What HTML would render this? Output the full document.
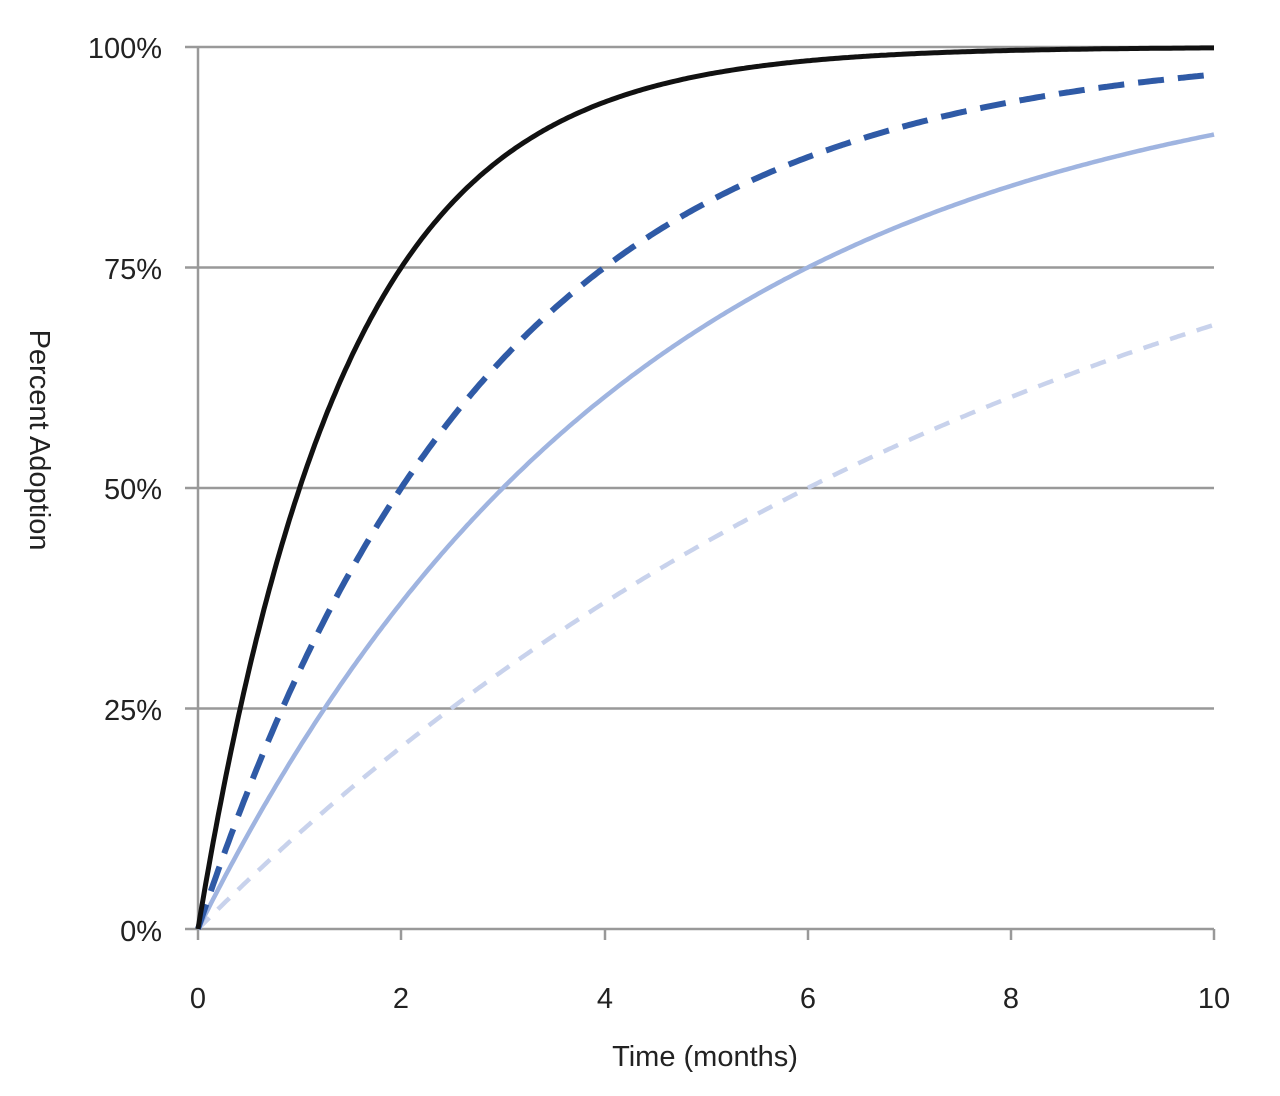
<!DOCTYPE html>
<html><head><style>
html,body{margin:0;padding:0;background:#fff;}
svg{display:block;}
text{font-family:"Liberation Sans",sans-serif;fill:#222;}
</style></head><body>
<svg id="s" width="1280" height="1096" xmlns="http://www.w3.org/2000/svg">
<g stroke="#999" stroke-width="2.5">
<line x1="185" y1="47" x2="1214" y2="47"/>
<line x1="185" y1="267.5" x2="1214" y2="267.5"/>
<line x1="185" y1="488" x2="1214" y2="488"/>
<line x1="185" y1="708.5" x2="1214" y2="708.5"/>
<line x1="185" y1="929" x2="1214" y2="929"/>
<line x1="198" y1="47" x2="198" y2="929"/>
<line x1="198" y1="929" x2="198" y2="940"/>
<line x1="401" y1="929" x2="401" y2="940"/>
<line x1="605" y1="929" x2="605" y2="940"/>
<line x1="808" y1="929" x2="808" y2="940"/>
<line x1="1011" y1="929" x2="1011" y2="940"/>
<line x1="1214" y1="929" x2="1214" y2="940"/>
</g>
<g font-size="29" text-anchor="end">
<text x="162" y="58">100%</text>
<text x="162" y="279">75%</text>
<text x="162" y="499">50%</text>
<text x="162" y="720">25%</text>
<text x="162" y="941">0%</text>
</g>
<g font-size="29" text-anchor="middle">
<text x="198" y="1008">0</text>
<text x="401" y="1008">2</text>
<text x="605" y="1008">4</text>
<text x="808" y="1008">6</text>
<text x="1011" y="1008">8</text>
<text x="1214" y="1008">10</text>
<text x="705" y="1066">Time (months)</text>
<text transform="translate(30,440) rotate(90)">Percent Adoption</text>
</g>
<g id="c" fill="none"></g>
</svg>
<script>
function p(k){var d="";for(var i=0;i<=400;i++){var t=i/40;var x=198+t*101.6;var y=929-882*(1-Math.exp(-k*t));d+=(i?"L":"M")+x.toFixed(1)+" "+y.toFixed(1);}return d;}
var s=[[0.1155,"#c8d2ec",4.5,"16 12"],[0.231,"#9fb4e0",4.5,""],[0.3466,"#2f5aa6",6,"26 14"],[0.693,"#111",5,""]];
var g=document.getElementById("c"),h="";
s.forEach(function(a){h+='<path d="'+p(a[0])+'" stroke="'+a[1]+'" stroke-width="'+a[2]+'"'+(a[3]?' stroke-dasharray="'+a[3]+'"':'')+'/>';});
g.innerHTML=h;
</script>
</body></html>
